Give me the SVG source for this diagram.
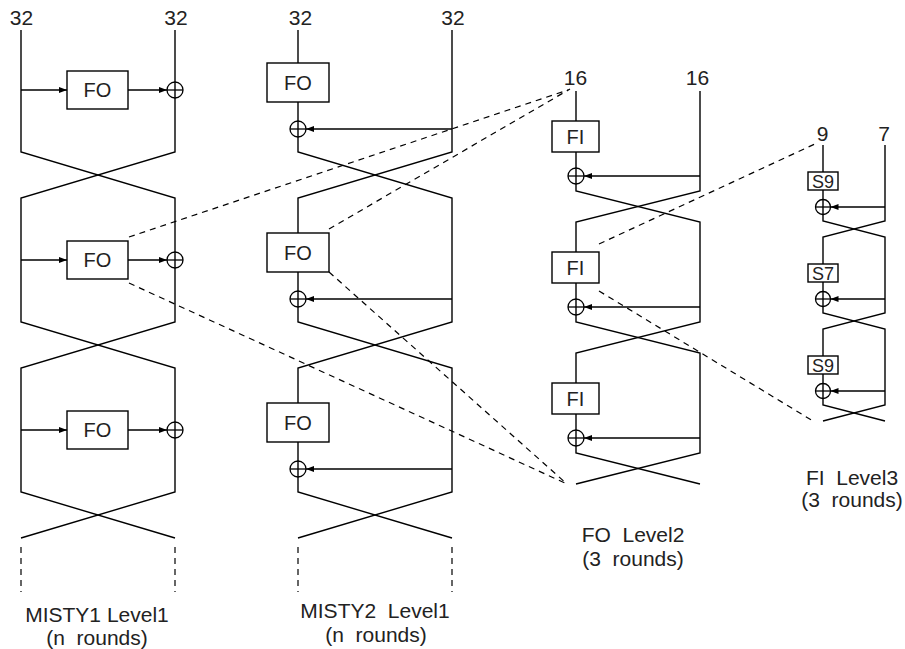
<svg xmlns="http://www.w3.org/2000/svg" width="905" height="649" viewBox="0 0 905 649">
<defs>
<marker id="ah" markerUnits="userSpaceOnUse" markerWidth="9" markerHeight="7" refX="8" refY="3" orient="auto">
<path d="M0,0 L8,3 L0,6 z" fill="#000"/>
</marker>
<style>
.w{fill:none;stroke:#000;stroke-width:1.4}
.a{fill:none;stroke:#000;stroke-width:1.4;marker-end:url(#ah)}
.d{fill:none;stroke:#000;stroke-width:1.2;stroke-dasharray:6,5}
.b{fill:#fff;stroke:#000;stroke-width:1.4}
.x{fill:none;stroke:#000;stroke-width:1.3}
text{font-family:"Liberation Sans",Arial,Helvetica,sans-serif;fill:#222;text-anchor:middle;white-space:pre}
.l{font-size:21px}
.t{font-size:20px}
.s{font-size:18px}
</style>
</defs>
<g id="connectors">
<!-- MISTY1 -->
<path class="w" d="M21,30 V152 L175,198 V322 L21,368 V492 L175,538"/>
<path class="w" d="M175,30 V152 L21,198 V322 L175,368 V492 L21,538"/>
<path class="d" d="M21,547 V592 M175,547 V592"/>
<path class="a" d="M21,90 H67"/><path class="a" d="M128,90 H167"/>
<path class="a" d="M21,260 H67"/><path class="a" d="M128,260 H167"/>
<path class="a" d="M21,430 H67"/><path class="a" d="M128,430 H167"/>
<!-- MISTY2 -->
<path class="w" d="M298,30 V152 L452,198 V322 L298,368 V492 L452,538"/>
<path class="w" d="M452,30 V152 L298,198 V322 L452,368 V492 L298,538"/>
<path class="d" d="M298,547 V592 M452,547 V592"/>
<path class="a" d="M452,129 H306"/>
<path class="a" d="M452,299 H306"/>
<path class="a" d="M452,469 H306"/>
<!-- FO Level2 -->
<path class="w" d="M576,91 V191 L700,222 V322 L576,353 V453 L700,484"/>
<path class="w" d="M700,91 V191 L576,222 V322 L700,353 V453 L576,484"/>
<path class="a" d="M700,176 H584"/>
<path class="a" d="M700,307 H584"/>
<path class="a" d="M700,438 H584"/>
<!-- FI Level3 -->
<path class="w" d="M823,145 V221 L885,237 V313 L823,329 V405 L885,421"/>
<path class="w" d="M885,145 V221 L823,237 V313 L885,329 V405 L823,421"/>
<path class="a" d="M885,207 H830.5"/>
<path class="a" d="M885,299 H830.5"/>
<path class="a" d="M885,391 H830.5"/>
<!-- zoom dashed lines -->
<path class="d" d="M129,237 L568,90"/>
<path class="d" d="M329,229 L570,89"/>
<path class="d" d="M129,283 L567,484"/>
<path class="d" d="M329,272 L567,484"/>
<path class="d" d="M599,244 L817,143"/>
<path class="d" d="M599,291 L813,421"/>
</g>
<g id="misty1-fo1"><rect class="b" x="67" y="71" width="61" height="38"/><text class="t" x="97.5" y="97">FO</text></g>
<g id="misty1-fo2"><rect class="b" x="67" y="241" width="61" height="38"/><text class="t" x="97.5" y="267">FO</text></g>
<g id="misty1-fo3"><rect class="b" x="67" y="411" width="61" height="38"/><text class="t" x="97.5" y="437">FO</text></g>
<g id="misty1-xor1"><circle class="x" cx="175" cy="90" r="8"/><path class="x" d="M167,90 H183"/></g>
<g id="misty1-xor2"><circle class="x" cx="175" cy="260" r="8"/><path class="x" d="M167,260 H183"/></g>
<g id="misty1-xor3"><circle class="x" cx="175" cy="430" r="8"/><path class="x" d="M167,430 H183"/></g>
<g id="misty2-fo1"><rect class="b" x="267" y="63" width="62" height="39"/><text class="t" x="298" y="90">FO</text></g>
<g id="misty2-fo2"><rect class="b" x="267" y="233" width="62" height="39"/><text class="t" x="298" y="260">FO</text></g>
<g id="misty2-fo3"><rect class="b" x="267" y="403" width="62" height="39"/><text class="t" x="298" y="430">FO</text></g>
<g id="misty2-xor1"><circle class="x" cx="298" cy="129" r="8"/><path class="x" d="M290,129 H306"/></g>
<g id="misty2-xor2"><circle class="x" cx="298" cy="299" r="8"/><path class="x" d="M290,299 H306"/></g>
<g id="misty2-xor3"><circle class="x" cx="298" cy="469" r="8"/><path class="x" d="M290,469 H306"/></g>
<g id="fo2-fi1"><rect class="b" x="552" y="121" width="47" height="31"/><text class="t" x="575.5" y="143.5">FI</text></g>
<g id="fo2-fi2"><rect class="b" x="552" y="252" width="47" height="31"/><text class="t" x="575.5" y="274.5">FI</text></g>
<g id="fo2-fi3"><rect class="b" x="552" y="383" width="47" height="31"/><text class="t" x="575.5" y="405.5">FI</text></g>
<g id="fo2-xor1"><circle class="x" cx="576" cy="176" r="8"/><path class="x" d="M568,176 H584"/></g>
<g id="fo2-xor2"><circle class="x" cx="576" cy="307" r="8"/><path class="x" d="M568,307 H584"/></g>
<g id="fo2-xor3"><circle class="x" cx="576" cy="438" r="8"/><path class="x" d="M568,438 H584"/></g>
<g id="fi3-s9a"><rect class="b" x="808" y="172" width="30" height="18"/><text class="s" x="823" y="187.5">S9</text></g>
<g id="fi3-s7"><rect class="b" x="808" y="264" width="30" height="18"/><text class="s" x="823" y="279.5">S7</text></g>
<g id="fi3-s9b"><rect class="b" x="808" y="356" width="30" height="18"/><text class="s" x="823" y="371.5">S9</text></g>
<g id="fi3-xor1"><circle class="x" cx="823" cy="207" r="7.5"/><path class="x" d="M815.5,207 H830.5"/></g>
<g id="fi3-xor2"><circle class="x" cx="823" cy="299" r="7.5"/><path class="x" d="M815.5,299 H830.5"/></g>
<g id="fi3-xor3"><circle class="x" cx="823" cy="391" r="7.5"/><path class="x" d="M815.5,391 H830.5"/></g>
<g id="labels">
<text class="l" x="21.5" y="25">32</text>
<text class="l" x="176" y="25">32</text>
<text class="l" x="300.5" y="25">32</text>
<text class="l" x="453" y="25">32</text>
<text class="l" x="575.5" y="85">16</text>
<text class="l" x="697.5" y="85">16</text>
<text class="l" x="822.5" y="141">9</text>
<text class="l" x="884" y="141">7</text>
<text class="l" x="97" y="622">MISTY1 Level1</text>
<text class="l" x="97" y="645">(n  rounds)</text>
<text class="l" x="375" y="618">MISTY2  Level1</text>
<text class="l" x="376" y="642">(n  rounds)</text>
<text class="l" x="633" y="542">FO  Level2</text>
<text class="l" x="633" y="566">(3  rounds)</text>
<text class="l" x="852" y="485">FI  Level3</text>
<text class="l" x="852" y="507">(3  rounds)</text>
</g>
</svg>
